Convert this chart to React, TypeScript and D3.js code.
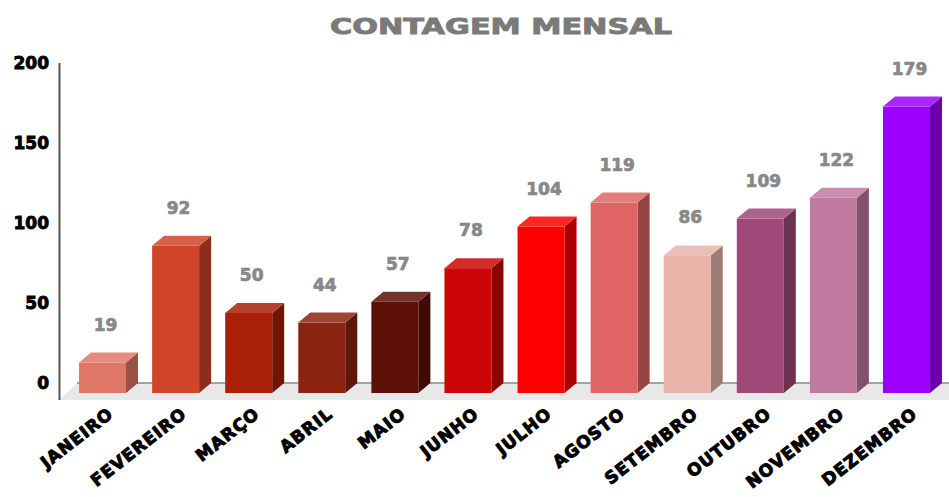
import React, { useEffect, useRef } from 'react';
import * as d3 from 'd3';

const months = [
  'JANEIRO', 'FEVEREIRO', 'MARÇO', 'ABRIL', 'MAIO', 'JUNHO',
  'JULHO', 'AGOSTO', 'SETEMBRO', 'OUTUBRO', 'NOVEMBRO', 'DEZEMBRO',
];
const counts = [19, 92, 50, 44, 57, 78, 104, 119, 86, 109, 122, 179];
const barColors = [
  '#e07868', '#d0442a', '#a82008', '#8a2410', '#5c1006', '#cc0606',
  '#ff0000', '#e06464', '#e8b4aa', '#a04878', '#c07aa0', '#9b00ff',
];
const yTicks = [0, 50, 100, 150, 200];
const title = 'CONTAGEM MENSAL';

export default function App() {
  const ref = useRef<SVGSVGElement>(null);

  useEffect(() => {
    if (!ref.current) return;
    const svg = d3.select(ref.current);
    svg.selectAll('*').remove();

    const width = 949;
    const font = '"DejaVu Sans", Verdana, sans-serif';
    const depthX = 12;
    const depthY = 10;

    const x = d3.scaleBand<string>()
      .domain(months)
      .range([59, 950])
      .paddingInner(0.357)
      .paddingOuter(0.274);

    // front-face scale; the back plane sits depthY higher
    const y = d3.scaleLinear().domain([0, 200]).range([393, 73]);
    const yBack = (v: number) => y(v) - depthY;

    // title
    svg.append('text')
      .attr('x', 501)
      .attr('y', 34)
      .attr('text-anchor', 'middle')
      .attr('font-family', font)
      .attr('font-weight', 900)
      .attr('font-size', 22)
      .attr('fill', '#7a7a7a')
      .attr('stroke', '#7a7a7a')
      .attr('stroke-width', 0.9)
      .attr('textLength', 342)
      .attr('lengthAdjust', 'spacingAndGlyphs')
      .text(title);

    // floor
    const floorLeft = 59;
    svg.append('path')
      .attr('d', `M${floorLeft + depthX + 6},${yBack(0)} L${width},${yBack(0)} L${width},${y(0) + 7} L${floorLeft},${y(0) + 7} Z`)
      .attr('fill', '#e8e8e8');
    svg.append('line')
      .attr('x1', floorLeft + depthX + 6)
      .attr('x2', width)
      .attr('y1', yBack(0))
      .attr('y2', yBack(0))
      .attr('stroke', '#8a8a8a')
      .attr('stroke-width', 1.5);

    // y axis line
    svg.append('line')
      .attr('x1', 59.5)
      .attr('x2', 59.5)
      .attr('y1', yBack(200))
      .attr('y2', y(0) + 7)
      .attr('stroke', '#555')
      .attr('stroke-width', 2);

    // y tick labels
    svg.append('g')
      .selectAll('text')
      .data(yTicks)
      .enter()
      .append('text')
      .attr('x', 49)
      .attr('y', d => yBack(d) + 6)
      .attr('text-anchor', 'end')
      .attr('font-family', font)
      .attr('font-weight', 'bold')
      .attr('font-size', 17)
      .attr('fill', '#000')
      .attr('stroke', '#000')
      .attr('stroke-width', 0.9)
      .text(d => d);

    // 3D bars
    const bw = x.bandwidth();
    const bars = svg.append('g')
      .selectAll('g')
      .data(months.map((m, i) => ({ m, v: counts[i], c: barColors[i] })))
      .enter()
      .append('g');

    bars.append('path')
      .attr('d', d => {
        const x0 = x(d.m)! + bw;
        return `M${x0},${y(d.v)} L${x0 + depthX},${yBack(d.v)} L${x0 + depthX},${yBack(0)} L${x0},${y(0)} Z`;
      })
      .attr('fill', d => d3.color(d.c)!.darker(1.1).toString());

    bars.append('path')
      .attr('d', d => {
        const x0 = x(d.m)!;
        return `M${x0},${y(d.v)} L${x0 + depthX},${yBack(d.v)} L${x0 + bw + depthX},${yBack(d.v)} L${x0 + bw},${y(d.v)} Z`;
      })
      .attr('fill', d => d3.interpolateRgb(d.c, '#ffffff')(0.15));

    bars.append('rect')
      .attr('x', d => x(d.m)!)
      .attr('y', d => y(d.v))
      .attr('width', bw)
      .attr('height', d => y(0) - y(d.v))
      .attr('fill', d => d.c);

    // value labels
    bars.append('text')
      .attr('x', d => x(d.m)! + bw / 2 + 3)
      .attr('y', d => yBack(d.v) - 22)
      .attr('text-anchor', 'middle')
      .attr('font-family', font)
      .attr('font-weight', 'bold')
      .attr('font-size', 17)
      .attr('fill', '#888')
      .attr('stroke', '#888')
      .attr('stroke-width', 0.7)
      .text(d => d.v);

    // month labels
    svg.append('g')
      .selectAll('text')
      .data(months)
      .enter()
      .append('text')
      .attr('transform', d => `translate(${x(d)! + bw / 2 + 12},${416}) rotate(-38)`)
      .attr('text-anchor', 'end')
      .attr('font-family', font)
      .attr('font-weight', 'bold')
      .attr('font-size', 17)
      .attr('letter-spacing', 1)
      .attr('fill', '#000')
      .attr('stroke', '#000')
      .attr('stroke-width', 1)
      .text(d => d);
  }, []);

  return (
    <div style={{ position: 'absolute', left: 0, top: 0, width: 949, height: 497, background: '#fff' }}>
      <svg ref={ref} width={949} height={497} />
    </div>
  );
}
